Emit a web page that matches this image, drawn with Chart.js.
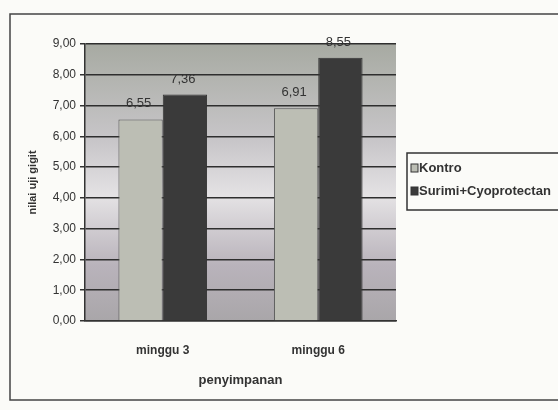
<!DOCTYPE html>
<html>
<head>
<meta charset="utf-8">
<script src="https://cdn.jsdelivr.net/npm/chart.js@4"></script>
<style>
  html, body { margin: 0; padding: 0; background: #fbfbf8; }
  #wrap { width: 558px; height: 410px; position: relative; }
</style>
</head>
<body>
<div id="wrap"><canvas id="c"></canvas></div>
<script>
// Data
const categories = ['minggu 3', 'minggu 6'];
const seriesNames = ['Kontro', 'Surimi+Cyoprotectan'];
const kontroValues = [6.55, 6.91];
const surimiValues = [7.36, 8.55];
const yTicks = [0, 1, 2, 3, 4, 5, 6, 7, 8, 9];

const fmt = v => v.toFixed(2).replace('.', ',');

// frame, plot background, value labels, legend box
const backdrop = {
    id: 'backdrop',
    beforeDraw(chart) {
        const ctx = chart.ctx;
        const a = chart.chartArea;
        ctx.save();
        ctx.strokeStyle = '#444';
        ctx.lineWidth = 1.5;
        ctx.strokeRect(10, 14, 560, 386);
        const g = ctx.createLinearGradient(0, a.top, 0, a.bottom);
        g.addColorStop(0, '#a7aaa2');
        g.addColorStop(0.35, '#c8c6c9');
        g.addColorStop(0.55, '#e4e2e4');
        g.addColorStop(0.8, '#b9b3bb');
        g.addColorStop(1, '#a9a6a9');
        ctx.fillStyle = g;
        ctx.fillRect(a.left, a.top, a.right - a.left, a.bottom - a.top);
        ctx.restore();
    },
    afterDatasetsDraw(chart) {
        const ctx = chart.ctx;
        ctx.save();
        ctx.font = '13px "Liberation Sans", Arial, sans-serif';
        ctx.fillStyle = '#333';
        ctx.textAlign = 'center';
        ctx.textBaseline = 'bottom';
        chart.data.datasets.forEach((ds, di) => {
            chart.getDatasetMeta(di).data.forEach((bar, i) => {
                ctx.fillText(fmt(ds.data[i]), bar.x - 2, bar.y - 9);
            });
        });
        // legend box
        const lx = 407, ly = 153;
        ctx.strokeStyle = '#333';
        ctx.lineWidth = 1.5;
        ctx.strokeRect(lx, ly, 170, 57);
        ctx.font = 'bold 13px "Liberation Sans", Arial, sans-serif';
        ctx.textAlign = 'left';
        ctx.textBaseline = 'middle';
        chart.data.datasets.forEach((ds, di) => {
            const y = ly + 15 + di * 23;
            ctx.fillStyle = ds.backgroundColor;
            ctx.fillRect(lx + 4, y - 4, 7, 8);
            ctx.strokeStyle = '#333';
            ctx.lineWidth = 1;
            ctx.strokeRect(lx + 4, y - 4, 7, 8);
            ctx.fillStyle = '#333';
            ctx.fillText(ds.label, lx + 12, y);
        });
        ctx.restore();
    }
};

new Chart(document.getElementById('c'), {
    type: 'bar',
    data: {
        labels: categories,
        datasets: [
            { label: seriesNames[0], data: kontroValues, backgroundColor: '#bcbeb4', borderColor: '#555', borderWidth: 1 },
            { label: seriesNames[1], data: surimiValues, backgroundColor: '#3a3a3a', borderColor: '#333', borderWidth: 1 }
        ]
    },
    options: {
        responsive: true,
        maintainAspectRatio: false,
        animation: false,
        devicePixelRatio: 1,
        layout: { padding: { left: 26, right: 162, top: 44, bottom: 18 } },
        plugins: { legend: { display: false }, tooltip: { enabled: false } },
        datasets: { bar: { categoryPercentage: 0.57, barPercentage: 1 } },
        scales: {
            x: {
                grid: { display: false, drawTicks: false },
                border: { color: '#333', width: 1.5 },
                ticks: { color: '#333', padding: 22, font: { family: '"Liberation Sans", Arial', size: 12, weight: 'bold' } },
                title: { display: true, text: 'penyimpanan', color: '#333', padding: { top: 9 },
                         font: { family: '"Liberation Sans", Arial', size: 13, weight: 'bold' } },
                afterFit(s) { s.height = 71; }
            },
            y: {
                min: 0, max: 9,
                afterBuildTicks(s) { s.ticks = yTicks.map(v => ({ value: v })); },
                grid: { color: '#2e2e2e', lineWidth: 1.5, tickLength: 5, tickColor: '#333' },
                border: { color: '#333', width: 1.5 },
                ticks: { color: '#333', padding: 4, callback: v => fmt(v),
                         font: { family: '"Liberation Sans", Arial', size: 12 } },
                title: { display: true, text: 'nilai uji gigit', color: '#333', padding: 0,
                         font: { family: '"Liberation Sans", Arial', size: 11, weight: 'bold' } },
                afterFit(s) { s.width = 59; }
            }
        }
    },
    plugins: [backdrop]
});
</script>
</body>
</html>
